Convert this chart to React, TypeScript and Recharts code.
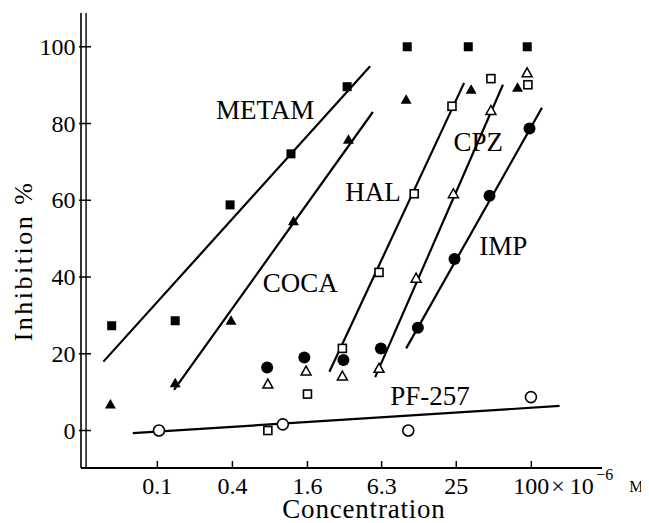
import React from 'react';
import { ScatterChart, Scatter, XAxis, YAxis, ReferenceLine, ReferenceDot } from 'recharts';

const FONT = '"Liberation Serif", "DejaVu Serif", serif';

// tick labels
const xTicks = [0.1, 0.4, 1.6, 6.3, 25, 100];
const xTickLabels = ['0.1', '0.4', '1.6', '6.3', '25', '100'];
const yTicks = [0, 20, 40, 60, 80, 100];

// measured points (concentration ×10^-6 M, inhibition %)
const metamConc = [0.043, 0.139, 0.383, 1.18, 3.33, 10.1, 31.2, 92.7];
const metamVal = [27.3, 28.6, 58.8, 72.1, 89.6, 100, 100, 100];
const cocaConc = [0.042, 0.139, 0.39, 1.235, 3.41, 9.9, 32.9, 77.5];
const cocaVal = [6.8, 12.3, 28.6, 54.5, 75.8, 86.2, 88.8, 89.3];
const halConc = [0.77, 1.6, 3.05, 6.0, 11.5, 23.1, 47.4, 93.9];
const halVal = [0, 9.5, 21.4, 41.2, 61.7, 84.5, 91.7, 90.1];
const cpzConc = [0.77, 1.56, 3.05, 6.0, 11.9, 23.7, 47.4, 92.5];
const cpzVal = [12.1, 15.5, 14.2, 16.2, 39.7, 61.7, 83.4, 93.2];
const impConc = [0.76, 1.51, 3.11, 6.21, 12.3, 24.2, 46.2, 96.7];
const impVal = [16.4, 19.0, 18.4, 21.4, 26.8, 44.7, 61.2, 78.7];
const pfConc = [0.103, 1.015, 10.3, 99.3];
const pfVal = [0, 1.6, 0, 8.7];

// fitted lines (end points)
const metamFitConc = [0.0369, 5.09];
const metamFitVal = [17.95, 94.9];
const cocaFitConc = [0.136, 5.355];
const cocaFitVal = [10.6, 83.0];
const halFitConc = [2.4, 28.9];
const halFitVal = [15.3, 90.6];
const cpzFitConc = [5.59, 59.2];
const cpzFitVal = [13.9, 90.1];
const impFitConc = [9.91, 121.7];
const impFitVal = [21.4, 84.1];
const pfFitConc = [0.0635, 168.4];
const pfFitVal = [-0.7, 6.4];

// series name annotations
const labelNames = ['METAM', 'COCA', 'HAL', 'CPZ', 'IMP', 'PF-257'];
const labelConc = [0.732, 1.398, 5.38, 37.5, 59.5, 15.4];
const labelVal = [83.4, 38.5, 62.2, 75.3, 48.1, 9.0];

const zip = (xs: number[], ys: number[]) => xs.map((x, i) => ({ x, y: ys[i] }));

const FilledSquare = (p: any) => <rect x={p.cx - 4.5} y={p.cy - 4.5} width={9} height={9} fill="#000" />;
const OpenSquare = (p: any) => (
  <rect x={p.cx - 4} y={p.cy - 4} width={8} height={8} fill="#fff" stroke="#000" strokeWidth={1.6} />
);
const FilledTri = (p: any) => (
  <polygon points={`${p.cx},${p.cy - 5.5} ${p.cx + 5.5},${p.cy + 4} ${p.cx - 5.5},${p.cy + 4}`} fill="#000" />
);
const OpenTri = (p: any) => (
  <polygon
    points={`${p.cx},${p.cy - 5} ${p.cx + 5},${p.cy + 4} ${p.cx - 5},${p.cy + 4}`}
    fill="#fff"
    stroke="#000"
    strokeWidth={1.5}
  />
);
const FilledCircle = (p: any) => <circle cx={p.cx} cy={p.cy} r={6} fill="#000" />;
const OpenCircle = (p: any) => <circle cx={p.cx} cy={p.cy} r={5.5} fill="#fff" stroke="#000" strokeWidth={1.6} />;
const NoShape = () => <g />;

const XTick = (props: any) => {
  const { x, y, payload } = props;
  const idx = xTicks.indexOf(payload.value);
  const label = xTickLabels[idx] ?? String(payload.value);
  const last = idx === xTicks.length - 1;
  return (
    <g>
      <line x1={x} x2={x} y1={y} y2={y - 7} stroke="#000" strokeWidth={1.5} />
      <text x={x} y={y + 25.5} textAnchor="middle" fontSize={24} fontFamily={FONT} fill="#000">
        {label}
      </text>
      {last && (
        <g fontFamily={FONT} fill="#000">
          <text x={x + 20} y={y + 25.5} fontSize={24}>×</text>
          <text x={x + 38.5} y={y + 25.5} fontSize={24}>10</text>
          <text x={x + 65} y={y + 12} fontSize={16}>−6</text>
          <text x={x + 98} y={y + 24} fontSize={16}>M</text>
        </g>
      )}
    </g>
  );
};

const YTick = (props: any) => {
  const { x, y, payload } = props;
  return (
    <g>
      <line x1={x - 2} x2={x + 10} y1={y} y2={y} stroke="#000" strokeWidth={1.5} />
      <text x={x - 5.5} y={y + 8} textAnchor="end" fontSize={24} fontFamily={FONT} fill="#000">
        {payload.value}
      </text>
    </g>
  );
};

const YTitle = () => (
  <text
    x={15}
    y={253}
    transform="rotate(-90 15 253)"
    textAnchor="middle"
    dominantBaseline="central"
    fontSize={26}
    letterSpacing={2.5}
    fontFamily={FONT}
    fill="#000"
  >
    Inhibition %
  </text>
);

const XTitle = () => (
  <text x={356} y={510} textAnchor="middle" fontSize={27} letterSpacing={0.8} fontFamily={FONT} fill="#000">
    Concentration
  </text>
);

const NameLabel = (name: string) => (p: any) => (
  <text x={p.cx} y={p.cy + 9} textAnchor="middle" fontSize={27} fontFamily={FONT} fill="#000">
    {name}
  </text>
);

const lineStyle = { stroke: '#000', strokeWidth: 2.2 };

export default function App() {
  const fits = [
    zip(metamFitConc, metamFitVal),
    zip(cocaFitConc, cocaFitVal),
    zip(halFitConc, halFitVal),
    zip(cpzFitConc, cpzFitVal),
    zip(impFitConc, impFitVal),
    zip(pfFitConc, pfFitVal),
  ];
  return (
    <div style={{ background: '#fff', width: 641, height: 515 }}>
      <ScatterChart width={641} height={515} margin={{ top: 5, right: 47, bottom: 0, left: 0 }}>
        <XAxis
          type="number"
          dataKey="x"
          scale="log"
          domain={[0.0244, 369]}
          allowDataOverflow
          ticks={xTicks}
          interval={0}
          height={55}
          tickLine={false}
          tickSize={0}
          tickMargin={0}
          tick={XTick}
          axisLine={{ stroke: '#000', strokeWidth: 2 }}
          label={<XTitle />}
        />
        <YAxis
          type="number"
          dataKey="y"
          domain={[-9.77, 108.8]}
          allowDataOverflow
          ticks={yTicks}
          interval={0}
          width={73}
          tickLine={false}
          tickSize={0}
          tickMargin={0}
          tick={YTick}
          axisLine={{ stroke: '#000', strokeWidth: 1.6 }}
          label={<YTitle />}
        />
        <ReferenceLine x={0.0268} stroke="#000" strokeWidth={1.4} />
        {fits.map((d, i) => (
          <Scatter key={'fit' + i} data={d} line={lineStyle} shape={NoShape} isAnimationActive={false} />
        ))}
        <Scatter data={zip(metamConc, metamVal)} shape={FilledSquare} isAnimationActive={false} />
        <Scatter data={zip(cocaConc, cocaVal)} shape={FilledTri} isAnimationActive={false} />
        <Scatter data={zip(halConc, halVal)} shape={OpenSquare} isAnimationActive={false} />
        <Scatter data={zip(cpzConc, cpzVal)} shape={OpenTri} isAnimationActive={false} />
        <Scatter data={zip(impConc, impVal)} shape={FilledCircle} isAnimationActive={false} />
        <Scatter data={zip(pfConc, pfVal)} shape={OpenCircle} isAnimationActive={false} />
        {labelNames.map((n, i) => (
          <ReferenceDot key={n} x={labelConc[i]} y={labelVal[i]} r={0} shape={NameLabel(n)} />
        ))}
      </ScatterChart>
    </div>
  );
}
